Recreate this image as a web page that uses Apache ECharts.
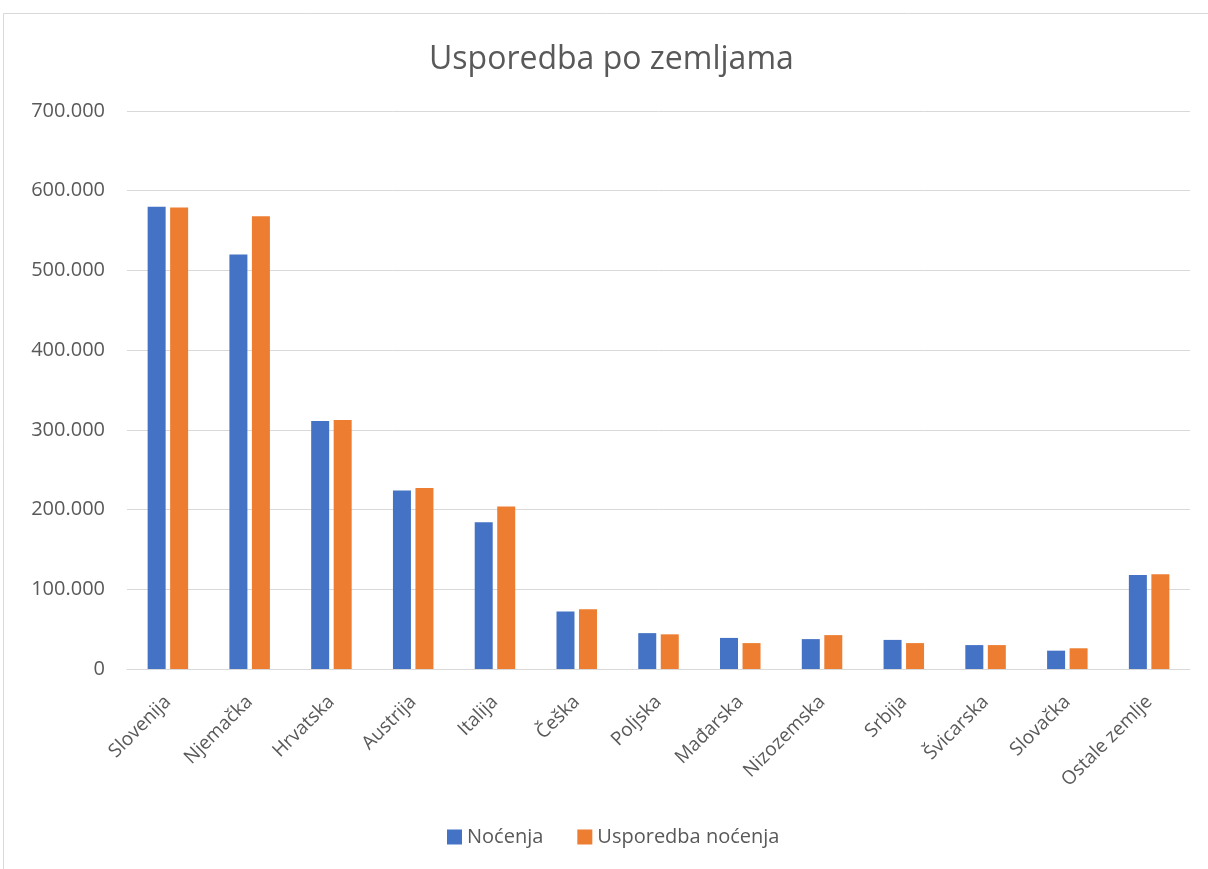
<!DOCTYPE html>
<html>
<head>
<meta charset="utf-8">
<script src="https://cdn.jsdelivr.net/npm/echarts@6/dist/echarts.min.js"></script>
<style>html,body{margin:0;padding:0;background:#fff}#c{width:1208px;height:869px}</style>
</head>
<body>
<div id="c"></div>
<script>
const categories = ['Slovenija','Njemačka','Hrvatska','Austrija','Italija','Češka','Poljska','Mađarska','Nizozemska','Srbija','Švicarska','Slovačka','Ostale zemlje'];
const nocenja = [580000,520000,311000,224000,184000,72000,45000,39000,37500,36500,30000,23000,118000];
const usporedbaNocenja = [579000,568000,312500,227000,204000,75000,43500,32500,42500,32500,30000,26000,119000];
const seriesNames = ['Noćenja','Usporedba noćenja'];
const yTicks = {min:0, max:700000, interval:100000};

const fontFam = '"Open Sans", "Noto Sans", sans-serif';
const chart = echarts.init(document.getElementById('c'));
chart.setOption({
  animation:false,
  backgroundColor:'#fff',
  graphic:[{type:'rect', shape:{x:3.5,y:13.5,width:1230,height:900}, style:{fill:'none',stroke:'#d9d9d9',lineWidth:1}, silent:true}],
  title:{text:'Usporedba po zemljama', left:424, top:39, textStyle:{fontFamily:fontFam, fontSize:32, fontWeight:'normal', color:'#595959'}},
  legend:{top:822, left:442, itemWidth:15, itemHeight:15, itemGap:34, icon:'rect', textStyle:{fontFamily:fontFam, fontSize:20, color:'#595959'}, data:seriesNames},
  grid:{left:127, right:18, top:111, bottom:200, containLabel:false},
  xAxis:{type:'category', data:categories, axisTick:{show:false}, axisLine:{lineStyle:{color:'#d9d9d9'}},
    axisLabel:{rotate:45, interval:0, fontFamily:fontFam, fontSize:19, color:'#595959', margin:30}},
  yAxis:{type:'value', min:yTicks.min, max:yTicks.max, interval:yTicks.interval, axisLine:{show:false}, axisTick:{show:false},
    splitLine:{lineStyle:{color:'#d9d9d9', width:1}},
    axisLabel:{fontFamily:fontFam, fontSize:20, color:'#595959', margin:22,
      formatter:v=>v===0?'0':v.toString().replace(/\B(?=(\d{3})+(?!\d))/g,'.')}},
  series:[
    {name:seriesNames[0], type:'bar', data:nocenja, barWidth:18, barGap:'25%', itemStyle:{color:'#4472c4'}},
    {name:seriesNames[1], type:'bar', data:usporedbaNocenja, barWidth:18, barGap:'25%', itemStyle:{color:'#ed7d31'}}
  ]
});
</script>
</body>
</html>
